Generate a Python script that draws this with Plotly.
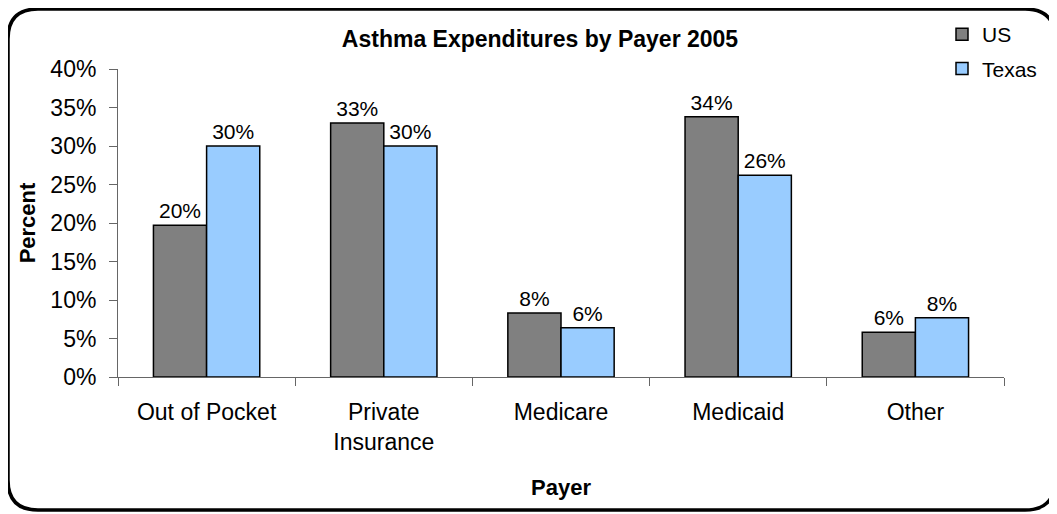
import plotly.graph_objects as go

categories = ["Out of Pocket", "Private<br>Insurance", "Medicare", "Medicaid", "Other"]
us_values = [0.197, 0.330, 0.083, 0.338, 0.058]
texas_values = [0.300, 0.300, 0.064, 0.262, 0.077]
y_ticks = [0, 0.05, 0.10, 0.15, 0.20, 0.25, 0.30, 0.35, 0.40]

OFF = 8  # page body margin
W, H = 1057 - OFF, 514 - OFF
ML, MR, MT, MB = 118 - OFF, 53, 69 - OFF, 137
PW, PH = W - ML - MR, H - MT - MB

def px(x):
    return (x - OFF - ML) / PW

def py(y):
    return (H - MB - (y - OFF)) / PH

FONT = "Liberation Sans, Arial, sans-serif"

fig = go.Figure()
fig.add_trace(go.Bar(
    name="US", x=categories, y=us_values, legendgroup="US",
    marker=dict(color="#808080", line=dict(color="black", width=1.5)),
    texttemplate="%{y:.0%}", textposition="outside", constraintext="none",
    textfont=dict(size=21, color="black", family=FONT), cliponaxis=False,
))
fig.add_trace(go.Bar(
    name="Texas", x=categories, y=texas_values, legendgroup="Texas",
    marker=dict(color="#99CCFF", line=dict(color="black", width=1.5)),
    texttemplate="%{y:.0%}", textposition="outside", constraintext="none",
    textfont=dict(size=21, color="black", family=FONT), cliponaxis=False,
))

# rounded border
x0, y0, x1, y1, r = 8, 9, 1055, 510, 30
path = (
    f"M {px(x0 + r)} {py(y0)} L {px(x1 - r)} {py(y0)} "
    f"Q {px(x1)} {py(y0)} {px(x1)} {py(y0 + r)} "
    f"L {px(x1)} {py(y1 - r)} Q {px(x1)} {py(y1)} {px(x1 - r)} {py(y1)} "
    f"L {px(x0 + r)} {py(y1)} Q {px(x0)} {py(y1)} {px(x0)} {py(y1 - r)} "
    f"L {px(x0)} {py(y0 + r)} Q {px(x0)} {py(y0)} {px(x0 + r)} {py(y0)} Z"
)

fig.update_layout(
    width=W, height=H,
    margin=dict(l=ML, r=MR, t=MT, b=MB, autoexpand=False),
    paper_bgcolor="white", plot_bgcolor="white",
    font=dict(family=FONT, color="black"),
    barmode="group", bargap=0.4, bargroupgap=0,
    title=dict(text="<b>Asthma Expenditures by Payer 2005</b>",
               x=(540 - OFF) / W, xanchor="center", y=1 - (39 - OFF) / H, yanchor="middle",
               font=dict(size=23, family=FONT, color="black")),
    legend=dict(xref="container", yref="container",
                x=(942 - OFF) / W, y=1 - (14 - OFF) / H, xanchor="left", yanchor="top",
                font=dict(size=21, family=FONT, color="black"),
                tracegroupgap=4, bgcolor="rgba(0,0,0,0)"),
    shapes=[dict(type="path", xref="paper", yref="paper", path=path,
                 line=dict(color="black", width=3.5), layer="above")],
    xaxis=dict(
        automargin=False,
        showline=True, linecolor="#666666", linewidth=1,
        ticks="outside", tickson="boundaries", ticklen=8, tickcolor="#666666",
        tickfont=dict(size=23, family=FONT, color="black"),
        ticklabelstandoff=14,
        showgrid=False,
        title=dict(text="<b>Payer</b>", font=dict(size=22, family=FONT, color="black"), standoff=26),
    ),
    yaxis=dict(
        automargin=False,
        range=[0, 0.40], tickvals=y_ticks, tickformat=".0%",
        showline=True, linecolor="#666666", linewidth=1,
        ticks="outside", ticklen=8, tickcolor="#666666",
        tickfont=dict(size=23, family=FONT, color="black"),
        ticklabelstandoff=8,
        showgrid=False, zeroline=False,
        title=dict(text="<b>Percent</b>", font=dict(size=22, family=FONT, color="black"), standoff=8),
    ),
)

fig.write_html("out.html")
